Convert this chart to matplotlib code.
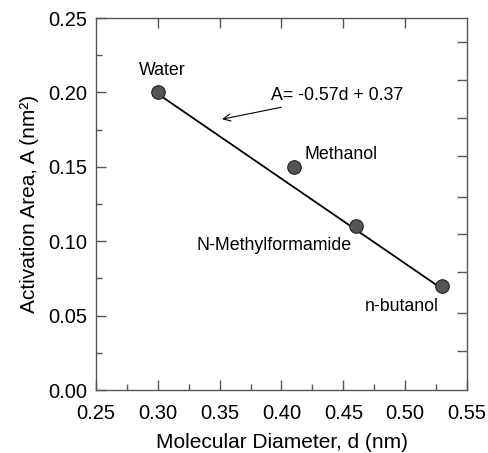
import matplotlib
matplotlib.use("Agg")
import matplotlib.pyplot as plt
import numpy as np

plt.rcParams['font.family'] = ['Liberation Sans', 'DejaVu Sans']

names = ["Water", "Methanol", "N-Methylformamide", "n-butanol"]
diam = [0.30, 0.41, 0.46, 0.53]
area = [0.20, 0.15, 0.11, 0.07]
slope, intercept = -0.57, 0.37
fit_range = [0.30, 0.53]

fig = plt.figure(figsize=(4.88, 4.53), dpi=100)
ax = fig.add_axes([96/488, 1-390/453, 371/488, 372/453])

fx = np.array(fit_range)
ax.plot(fx, slope*fx + intercept, color='black', lw=1.3, zorder=2)
ax.scatter(diam, area, s=95, facecolor='#555555', edgecolor='#222222', lw=0.8, zorder=3)

fs = 12.8
ax.text(0.304, 0.2144, "Water", ha='center', va='center', fontsize=fs)
ax.text(0.419, 0.158, "Methanol", ha='left', va='center', fontsize=fs)
ax.text(0.331, 0.0974, "N-Methylformamide", ha='left', va='center', fontsize=fs)
ax.text(0.4675, 0.0558, "n-butanol", ha='left', va='center', fontsize=fs)

ax.annotate("A= -0.57d + 0.37", xy=(0.352, 0.182), xytext=(0.3915, 0.1976),
            ha='left', va='center', fontsize=fs,
            arrowprops=dict(arrowstyle='->', color='black', lw=0.8, shrinkA=0, shrinkB=0))

ax.set_xlim(0.25, 0.55)
ax.set_ylim(0.0, 0.25)
ax.set_xticks(np.arange(0.25, 0.551, 0.05))
ax.set_xticks(np.arange(0.275, 0.55, 0.05), minor=True)
ax.set_yticks(np.arange(0.0, 0.251, 0.05))
ax.set_yticks(np.arange(0.025, 0.25, 0.05), minor=True)
ax.xaxis.set_major_formatter(matplotlib.ticker.FormatStrFormatter('%.2f'))
ax.yaxis.set_major_formatter(matplotlib.ticker.FormatStrFormatter('%.2f'))

gray = '#555555'
for s in ax.spines.values():
    s.set_color(gray)
    s.set_linewidth(1.0)
ax.tick_params(which='both', direction='in', color=gray, width=1.0, labelsize=14.5, top=False, right=False)
ax.tick_params(which='major', length=7)
ax.tick_params(which='minor', length=4)
ax.tick_params(axis='x', which='major', pad=10)
ax.tick_params(axis='y', which='major', pad=6)

# top axis ticks (major only)
tx = ax.secondary_xaxis('top')
tx.set_xticks(np.arange(0.30, 0.501, 0.05))
tx.tick_params(direction='in', length=7, color=gray, width=1.0, labeltop=False)
tx.spines['top'].set_visible(False)

# right axis ticks
right_ticks = [0.026, 0.052, 0.079, 0.105, 0.130, 0.157, 0.183, 0.208, 0.234]
ry = ax.secondary_yaxis('right')
ry.set_yticks(right_ticks)
ry.tick_params(direction='in', length=7, color=gray, width=1.0, labelright=False)
ry.spines['right'].set_visible(False)

ax.set_xlabel("Molecular Diameter, d (nm)", fontsize=15, labelpad=7)
ax.set_ylabel("Activation Area, A (nm²)", fontsize=15, labelpad=7)

fig.savefig("out.png", dpi=100)
